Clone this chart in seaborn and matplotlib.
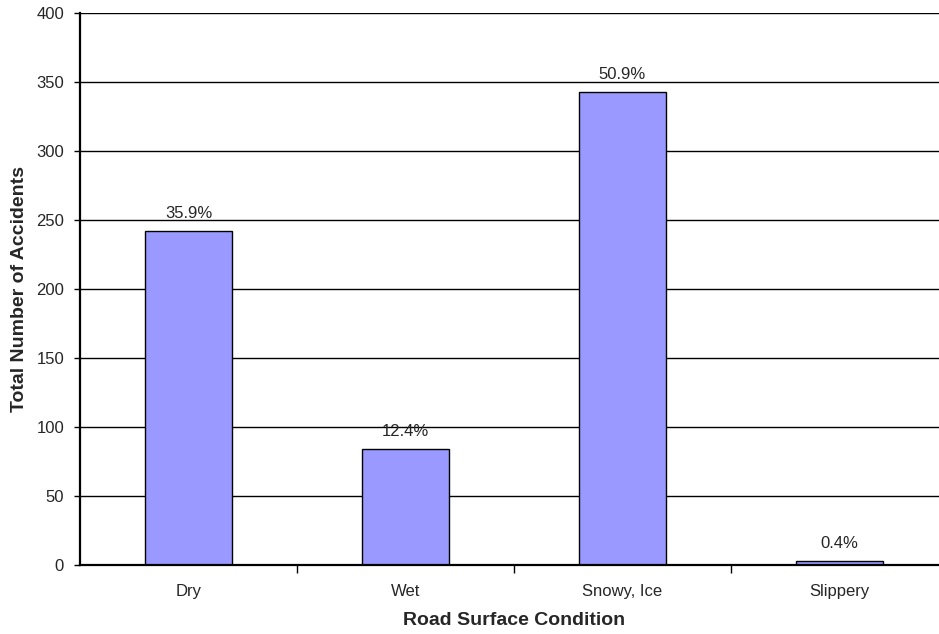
import matplotlib
matplotlib.use("Agg")
import matplotlib.pyplot as plt
import seaborn as sns
import pandas as pd
from matplotlib.ticker import FixedLocator

categories = ["Dry", "Wet", "Snowy, Ice", "Slippery"]
accidents = [242, 84, 343, 3]
pct_labels = ["35.9%", "12.4%", "50.9%", "0.4%"]
yticks = [0, 50, 100, 150, 200, 250, 300, 350, 400]

sns.set_style("white")
plt.rcParams['font.family'] = ['Liberation Sans', 'DejaVu Sans']

df = pd.DataFrame({"cat": categories, "val": accidents})

fig = plt.figure(figsize=(9.39, 6.34), dpi=100)
ax = fig.add_axes([80/939, 69/634, 868/939, 552/634])

sns.barplot(data=df, x="cat", y="val", color="#9999FF", width=0.4,
            edgecolor="black", linewidth=1, saturation=1, ax=ax, zorder=3)

ax.set_xlim(-0.5, 3.5)
ax.set_ylim(0, 400)
ax.set_yticks(yticks)
ax.yaxis.grid(True, color="black", linewidth=1, zorder=0)
ax.set_axisbelow(True)

for s in ["top", "right"]:
    ax.spines[s].set_visible(False)
for s in ["left", "bottom"]:
    ax.spines[s].set_color("black")
    ax.spines[s].set_linewidth(1.6)
    ax.spines[s].set_zorder(4)

ax.tick_params(axis="y", which="major", direction="out", length=4.5, width=1,
               color="black", labelsize=12, pad=7, left=True)
ax.tick_params(axis="x", which="major", length=0, labelsize=12, pad=14)
ax.xaxis.set_minor_locator(FixedLocator([0.5, 1.5, 2.5]))
ax.tick_params(axis="x", which="minor", direction="out", length=6, width=1,
               color="black", bottom=True)

for i, (v, lab) in enumerate(zip(accidents, pct_labels)):
    ax.annotate(lab, (i, v), xytext=(0, 7), textcoords="offset points",
                ha="center", va="bottom", fontsize=12)

ax.set_xlabel("Road Surface Condition", fontsize=14, fontweight="bold", labelpad=9)
ax.set_ylabel("Total Number of Accidents", fontsize=14, fontweight="bold", labelpad=6)

fig.savefig("out.png", dpi=100)
